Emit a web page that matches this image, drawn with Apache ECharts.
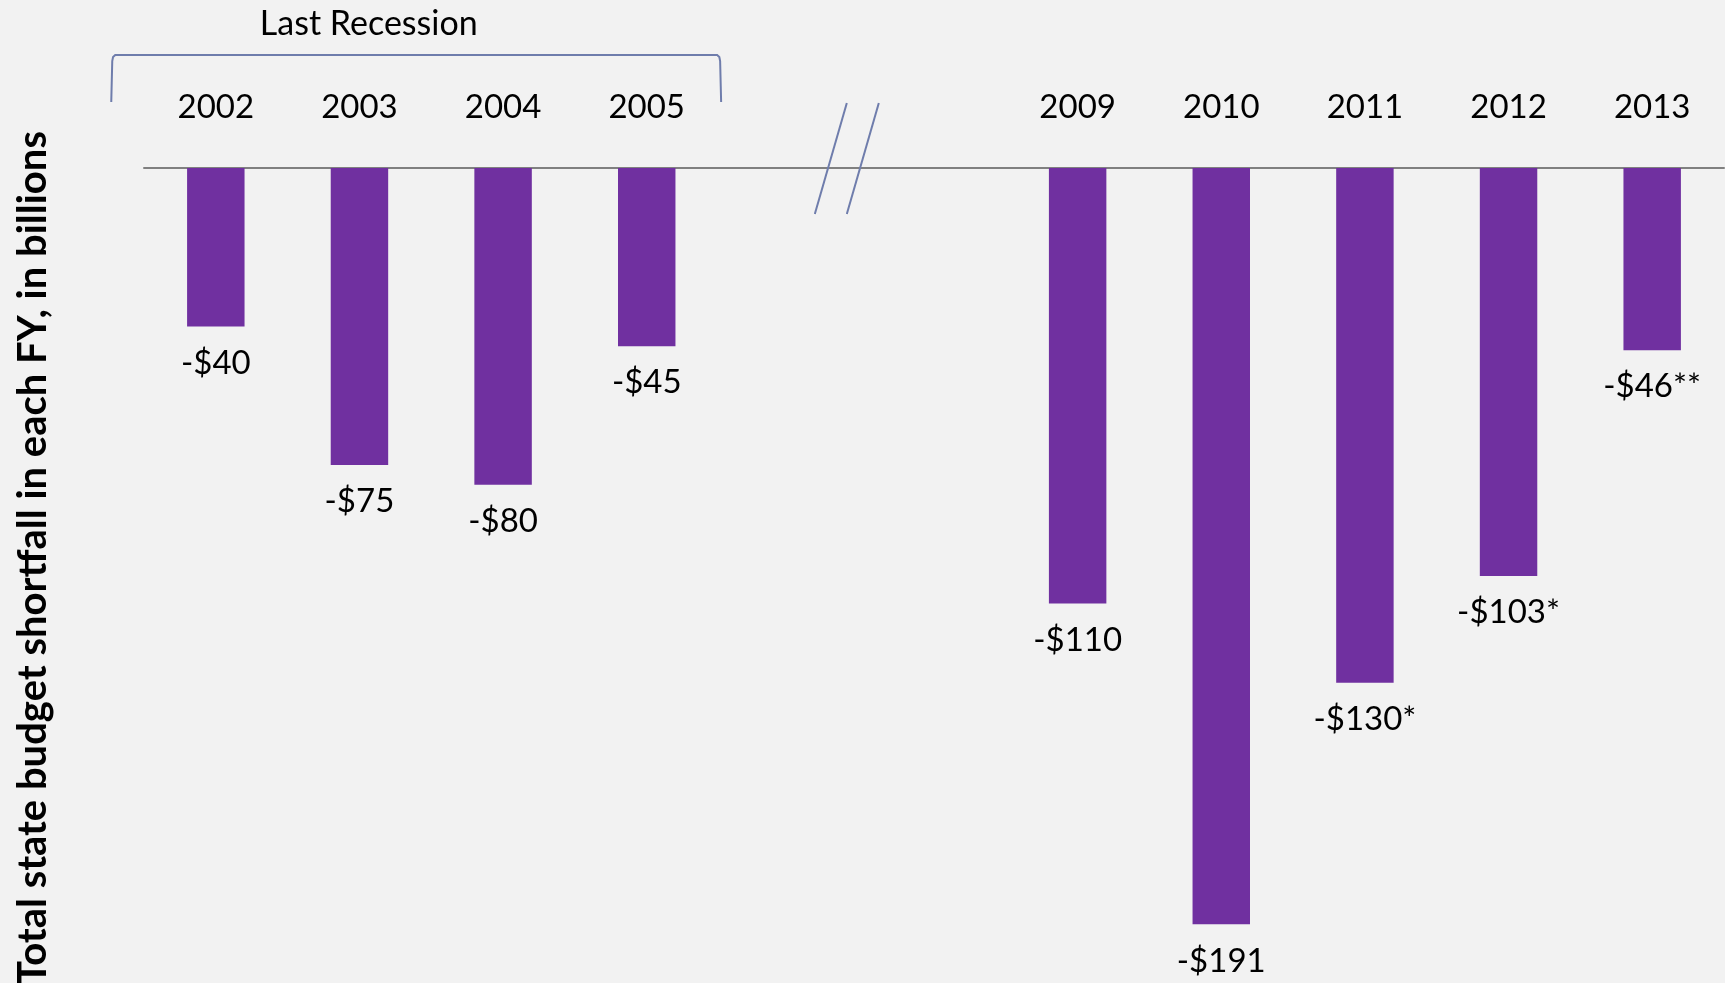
<!DOCTYPE html>
<html>
<head>
<meta charset="utf-8">
<script src="https://cdn.jsdelivr.net/npm/echarts@6/dist/echarts.min.js"></script>
<style>
  html, body { margin: 0; padding: 0; background: #f2f2f2; }
  #chart { width: 1725px; height: 983px; }
</style>
</head>
<body>
<div id="chart"></div>
<script>
// Fiscal years (two blank slots mark the break between the recessions)
const years = ['2002', '2003', '2004', '2005', '', '', '2009', '2010', '2011', '2012', '2013'];
// Total state budget shortfall, billions of dollars
const shortfall = [-40, -75, -80, -45, null, null, -110, -191, -130, -103, -46];
// Footnote markers appended to the value labels
const notes = ['', '', '', '', '', '', '', '', '*', '*', '**'];
const axisTitle = 'Total state budget shortfall in each FY, in billions';
const bracketTitle = 'Last Recession';

const FONT = 'Lato, "Open Sans", sans-serif';
const LINE_BLUE = '#6f7dac';

const chart = echarts.init(document.getElementById('chart'), null, { renderer: 'canvas' });

chart.setOption({
  backgroundColor: '#f2f2f2',
  animation: false,
  grid: { left: 144, right: 1, top: 168, bottom: 23 },
  xAxis: {
    type: 'category',
    position: 'top',
    data: years,
    axisTick: { show: false },
    axisLine: { lineStyle: { color: '#808080', width: 2 } },
    axisLabel: {
      color: '#000',
      fontFamily: FONT,
      fontSize: 33,
      lineHeight: 33,
      margin: 44,
      interval: 0
    }
  },
  yAxis: {
    type: 'value',
    min: -200,
    max: 0,
    show: false
  },
  series: [{
    type: 'bar',
    data: shortfall,
    barWidth: '40%',
    itemStyle: { color: '#7030a0' },
    label: {
      show: true,
      position: 'bottom',
      distance: 20,
      color: '#000',
      fontFamily: FONT,
      fontSize: 33,
      lineHeight: 33,
      formatter: p => '-$' + Math.abs(p.value) + notes[p.dataIndex]
    }
  }]
});

// Annotations placed relative to the category axis
const px = (i) => chart.convertToPixel({ xAxisIndex: 0 }, i);
const step = px(1) - px(0);
const zeroY = chart.convertToPixel({ yAxisIndex: 0 }, 0);

const bl = px(0) - 0.728 * step;
const br = px(3) + 0.518 * step;
const bt = 55, bb = 102;
const bracketPoints = [
  [bl, bb], [bl + 1, bt + 6], [bl + 1.8, bt + 2], [bl + 4, bt],
  [br - 4, bt], [br - 1.8, bt + 2], [br - 1, bt + 6], [br, bb]
];

const breakX = px(4) + 0.4 * step - 16;
const breakLine = (dx) => ({
  type: 'line',
  shape: { x1: breakX + dx - 17, y1: zeroY + 46, x2: breakX + dx + 15, y2: zeroY - 65 },
  style: { stroke: LINE_BLUE, lineWidth: 2 },
  z: 10
});

chart.setOption({
  graphic: [
    {
      type: 'polyline',
      shape: { points: bracketPoints },
      style: { stroke: LINE_BLUE, lineWidth: 2, fill: null }
    },
    {
      type: 'text',
      x: px(1) + 0.065 * step,
      y: 24,
      style: {
        text: bracketTitle,
        fill: '#000',
        font: '34px ' + FONT,
        textAlign: 'center',
        textVerticalAlign: 'middle'
      }
    },
    breakLine(0),
    breakLine(32),
    {
      type: 'text',
      x: 33,
      y: 558,
      rotation: Math.PI / 2,
      style: {
        text: axisTitle,
        fill: '#000',
        font: 'bold 40px ' + FONT,
        textAlign: 'center',
        textVerticalAlign: 'middle'
      }
    }
  ]
});
</script>
</body>
</html>
